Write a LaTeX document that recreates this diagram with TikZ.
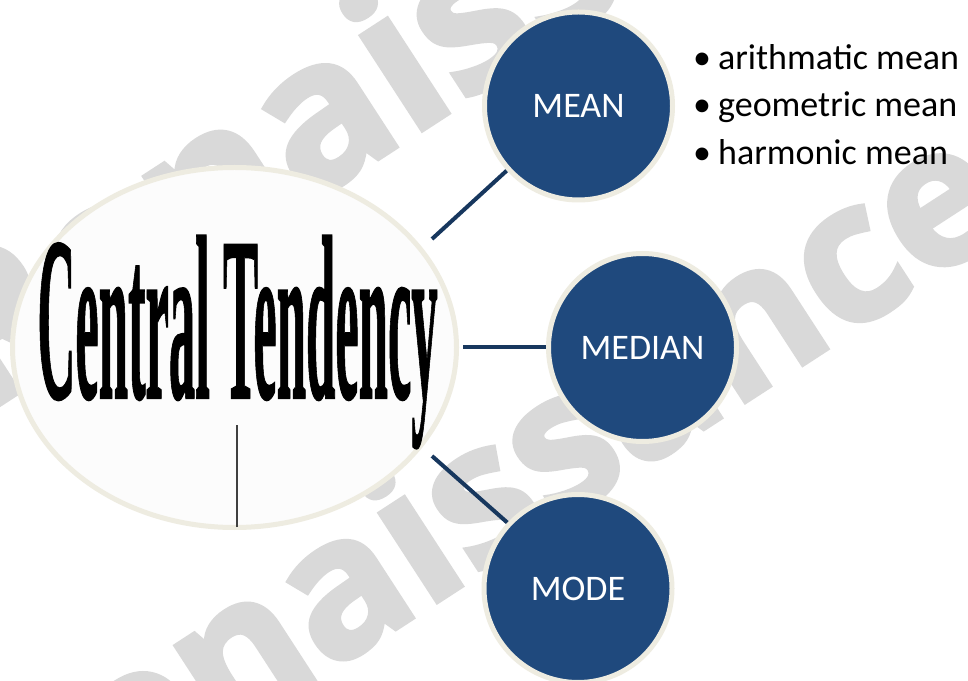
\documentclass[tikz,border=0pt]{standalone}
\usepackage{fontspec}
\setmainfont{Carlito}
\newfontfamily\wmfont{Open Sans}[BoldFeatures={FakeBold=2.5}]
\newfontfamily\ctfont{Liberation Serif}[BoldFeatures={FakeBold=1}]
\usepackage{graphicx}
\usetikzlibrary{shapes.geometric}
\pgfdeclarelayer{wm}
\pgfdeclarelayer{lines}
\pgfsetlayers{wm,lines,main}
\definecolor{navy}{HTML}{1F497D}
\definecolor{cream}{HTML}{EEECE1}
\definecolor{connc}{HTML}{17375E}
\definecolor{wmgray}{HTML}{D9D9D9}
\definecolor{hubfill}{HTML}{FCFCFC}
\begin{document}
\begin{tikzpicture}[x=1pt,y=1pt,
  bubble/.style={circle, fill=navy, draw=cream, line width=5pt, minimum size=188pt, inner sep=0pt, text=white, font=\fontsize{36}{36}\selectfont},
  conn/.style={draw=connc, line width=4pt},
  wmark/.style={text=wmgray, rotate=33, anchor=base west, inner sep=0pt},
  hub/.style={ellipse, fill=hubfill, draw=cream, line width=5pt, minimum width=444pt, minimum height=360pt, inner sep=0pt},
  item/.style={anchor=base west, inner sep=0pt, font=\fontsize{36}{36}\selectfont}]
\useasboundingbox (0,0) rectangle (968,680);
\begin{pgfonlayer}{wm}
\fill[white] (0,0) rectangle (968,680);
\begin{scope}
\clip (0,0) rectangle (968,680);
\node[wmark, font=\wmfont\bfseries\fontsize{205}{205}\selectfont] (wm1) at (-23,261) {Renaissance};
\node[wmark, font=\wmfont\bfseries\fontsize{193}{193}\selectfont] (wm2) at (18,-194) {Renaissance};
\end{scope}
\end{pgfonlayer}
% hub
\node[hub] (hub) at (234.5,332.5) {};
\node[anchor=base, inner sep=0pt] (ctxt) at (237.5,282) {\scalebox{0.225}[1]{\ctfont\bfseries\fontsize{234}{234}\selectfont Central Tendency}};
\draw[black!75, line width=2.5pt] (237,153) -- (237,255);
% bubbles
\node[bubble] (mean) at (578.5,574) {MEAN};
\node[bubble] (median) at (642.5,332.5) {MEDIAN};
\node[bubble] (mode) at (578,91.5) {MODE};
% list
\node[item] (l1) at (693,610) {•\hspace{7pt}arithmatic mean};
\node[item] (l2) at (693,563) {•\hspace{7pt}geometric mean};
\node[item] (l3) at (693,515.5) {•\hspace{7pt}harmonic mean};
% connectors
\coordinate (e1) at (432,441);
\coordinate (e2) at (463,332.5);
\coordinate (e3) at (432,224);
\begin{pgfonlayer}{lines}
\draw[conn] (e1) -- (mean.222.3);
\draw[conn] (e2) -- (median.west);
\draw[conn] (e3) -- (mode.137.7);
\end{pgfonlayer}
\end{tikzpicture}
\end{document}
